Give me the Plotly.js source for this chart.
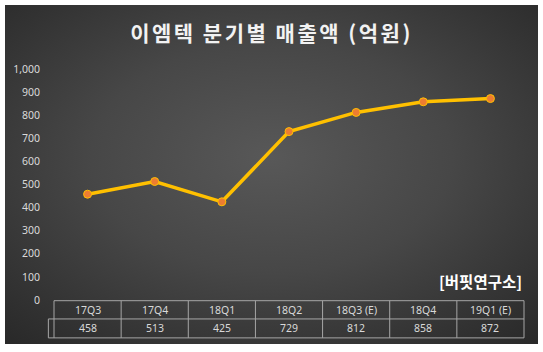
<!DOCTYPE html>
<html>
<head>
<meta charset="utf-8">
<script src="https://cdn.plot.ly/plotly-3.0.1.min.js"></script>
<style>
html,body{margin:0;padding:0;background:#ffffff;}
#wrap{position:relative;width:543px;height:352px;}
#bg{position:absolute;left:5px;top:5px;width:533px;height:339px;
background:radial-gradient(ellipse 75% 75% at 50% 45%, #585858 0%, #474747 45%, #333333 80%, #282828 100%);}
#chart{position:absolute;left:0;top:0;width:543px;height:352px;}
#chart .gtitle{letter-spacing:2.5px;}
</style>
</head>
<body>
<div id="wrap"><div id="bg"></div><div id="chart"></div></div>
<script>
const categories = ["17Q3","17Q4","18Q1","18Q2","18Q3 (E)","18Q4","19Q1 (E)"];
const revenue = [458, 513, 425, 729, 812, 858, 872];
const yTicks = [0,100,200,300,400,500,600,700,800,900,1000];
const titleText = "이엠텍 분기별 매출액 (억원)";
const sourceText = "[버핏연구소]";

const n = categories.length;
const gridColor = "#a6a6a6";
const textColor = "#d9d9d9";
const row1Top = -0.003, rowMid = -0.082, rowBot = -0.164;

const shapes = [];
[[row1Top,0],[rowMid,-0.012],[rowBot,-0.012]].forEach(([y,x0])=>{
  shapes.push({type:"line",xref:"paper",yref:"paper",x0:x0,x1:1,y0:y,y1:y,line:{color:gridColor,width:1}});
});
for(let i=0;i<=n;i++){
  shapes.push({type:"line",xref:"paper",yref:"paper",x0:i/n,x1:i/n,y0:row1Top,y1:rowBot,line:{color:gridColor,width:1}});
}
shapes.push({type:"line",xref:"paper",yref:"paper",x0:-0.012,x1:-0.012,y0:rowMid,y1:rowBot,line:{color:gridColor,width:1}});

const annotations = [];
categories.forEach((c,i)=>{
  annotations.push({x:c,xref:"x",y:(row1Top+rowMid)/2,yref:"paper",yanchor:"middle",xanchor:"center",text:c,showarrow:false,
    font:{family:"Noto Sans, DejaVu Sans, sans-serif",size:10.5,color:textColor}});
  annotations.push({x:c,xref:"x",y:(rowMid+rowBot)/2,yref:"paper",yanchor:"middle",xanchor:"center",text:String(revenue[i]),showarrow:false,
    font:{family:"Noto Sans, DejaVu Sans, sans-serif",size:10.5,color:textColor}});
});
annotations.push({x:1,xref:"paper",y:0.083,yref:"paper",xanchor:"right",yanchor:"middle",text:"<b>"+sourceText+"</b>",
  showarrow:false,font:{family:"Noto Sans CJK KR, sans-serif",size:15.5,color:"#ffffff"}});

const data = [{
  type:"scatter",mode:"lines+markers",x:categories,y:revenue,
  line:{color:"#FFC000",width:3.5},
  marker:{color:"#ED7D31",size:8,line:{color:"#FFC000",width:1}},
  hoverinfo:"skip",cliponaxis:false
}];

const layout = {
  width:543,height:352,
  paper_bgcolor:"rgba(0,0,0,0)",plot_bgcolor:"rgba(0,0,0,0)",
  margin:{l:54,r:19,t:69,b:52,pad:0},
  showlegend:false,
  title:{text:"<b>"+titleText+"</b>",x:0.5,xanchor:"center",y:0.905,yanchor:"middle",
    font:{family:"Noto Sans CJK KR, sans-serif",size:21,color:"#f2f2f2"}},
  xaxis:{type:"category",range:[-0.5,n-0.5],showticklabels:false,showgrid:false,zeroline:false,showline:false,ticks:""},
  yaxis:{range:[0,1000],tickvals:yTicks,tickformat:",d",showgrid:false,zeroline:false,showline:false,ticks:"",
    ticklabelstandoff:13,
    tickfont:{family:"Noto Sans, DejaVu Sans, sans-serif",size:10.5,color:textColor}},
  shapes:shapes,annotations:annotations
};
Plotly.newPlot("chart",data,layout,{staticPlot:true,displayModeBar:false});
</script>
</body>
</html>
